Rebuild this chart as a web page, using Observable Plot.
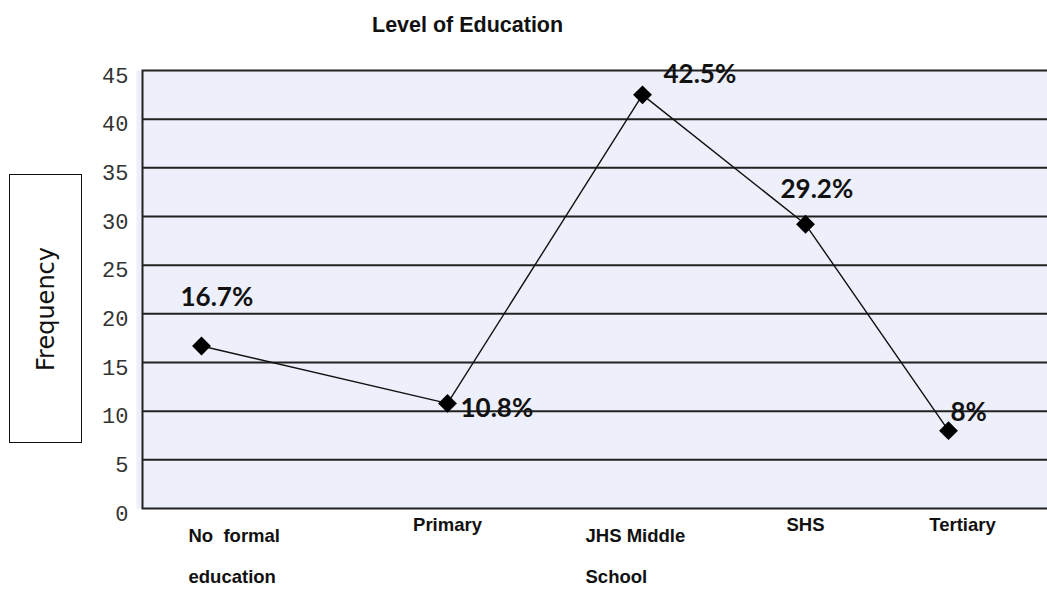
<!DOCTYPE html>
<html>
<head>
<meta charset="utf-8">
<script src="https://cdn.jsdelivr.net/npm/d3@7"></script>
<script src="https://cdn.jsdelivr.net/npm/@observablehq/plot@0.6"></script>
<style>
  html, body { margin: 0; padding: 0; background: #fff; width: 1047px; height: 613px; overflow: hidden; }
  #wrap { position: relative; width: 1047px; height: 613px; }
  #chart { position: absolute; left: 0; top: 0; }
  #title { position: absolute; left: 372px; top: 13px; line-height: 1; font: bold 21.5px "Liberation Sans", Arial, sans-serif; color: #111; white-space: nowrap; }
  #ylabel { position: absolute; left: 9px; top: 174px; width: 73px; height: 269px; border: 1.5px solid #111; box-sizing: border-box; background: #fff; }
  #ylabel span { position: absolute; left: 50%; top: 50%; transform: translate(-50%, -50%) rotate(-90deg); font: 24px "DejaVu Sans", sans-serif; color: #111; white-space: nowrap; }
</style>
</head>
<body>
<div id="wrap">
  <div id="chart"></div>
  <div id="title">Level of Education</div>
  <div id="ylabel"><span>Frequency</span></div>
</div>
<script>
// Education level categories, in display order
const levels = ["No formal education", "Primary", "JHS Middle School", "SHS", "Tertiary"];
// Category captions under the plot (two-line captions use a line break)
const axisLabels = ["No  formal\neducation", "Primary", "JHS Middle\nSchool", "SHS", "Tertiary"];
// Share of respondents per level (%)
const shares = [16.7, 10.8, 42.5, 29.2, 8];
// Value labels printed beside each point
const valueLabels = ["16.7%", "10.8%", "42.5%", "29.2%", "8%"];
// Y axis tick values
const yTicks = [0, 5, 10, 15, 20, 25, 30, 35, 40, 45];

const rows = levels.map((level, i) => ({
  i,
  level,
  caption: axisLabels[i],
  share: shares[i],
  label: valueLabels[i]
}));

// Placement of the category columns across the plot (piecewise scale range)
const columnRange = [201, 447, 642, 805, 948];
// Per-label placement nudges [dx, dy] for the value labels
const labelNudge = [[-21, -48], [13, 5], [21, -20], [-25, -35], [2, -18]];
// Per-caption horizontal nudges
const captionNudge = [-13, 0, -57, 0, 14];

const captionFont = '"Liberation Sans", Arial, sans-serif';

const chart = Plot.plot({
  width: 1047,
  height: 613,
  marginTop: 70,
  marginBottom: 105,
  marginLeft: 142,
  marginRight: 0,
  style: { background: "transparent", overflow: "visible" },
  x: { type: "linear", domain: rows.map(r => r.i), range: columnRange, axis: null },
  y: { domain: [0, 45] },
  marks: [
    // plot area background
    Plot.frame({ fill: "#edeffa", insetLeft: -6 }),
    // horizontal grid lines
    Plot.ruleY(yTicks.filter(t => t > 0 && t < 45), { stroke: "#222", strokeWidth: 2 }),
    // plot border (left, top, bottom; right side runs off the page)
    Plot.frame({ stroke: "#222", strokeWidth: 2, fill: "none", insetRight: -20 }),
    Plot.axisY(yTicks, {
      tickSize: 0,
      tickPadding: 14,
      fontSize: 22,
      fontFamily: '"Liberation Mono", monospace',
      fill: "#333",
      dy: 5,
      label: null
    }),
    // connecting line and diamond markers
    Plot.line(rows, { x: "i", y: "share", stroke: "#111", strokeWidth: 1.4 }),
    Plot.dot(rows, { x: "i", y: "share", symbol: "diamond2", r: 8.5, fill: "#000", stroke: "none" }),
    // value labels
    ...rows.map((r, k) => Plot.text([r], {
      x: "i", y: "share", text: "label",
      dx: labelNudge[k][0], dy: labelNudge[k][1],
      textAnchor: "start", lineAnchor: "middle",
      fontSize: 26, fontWeight: "bold", fontFamily: "Lato, sans-serif", fill: "#111"
    })),
    // category captions below the plot
    ...rows.map((r, k) => {
      const twoLine = r.caption.includes("\n");
      return Plot.text([r], {
        x: "i", text: "caption", frameAnchor: "bottom",
        dx: captionNudge[k], dy: twoLine ? 41 : 9,
        lineAnchor: "middle", textAnchor: twoLine ? "start" : "middle",
        lineHeight: 2.2,
        fontSize: 18.5, fontWeight: "bold", fontFamily: captionFont, fill: "#111"
      });
    })
  ]
});

document.getElementById("chart").appendChild(chart);
</script>
</body>
</html>
